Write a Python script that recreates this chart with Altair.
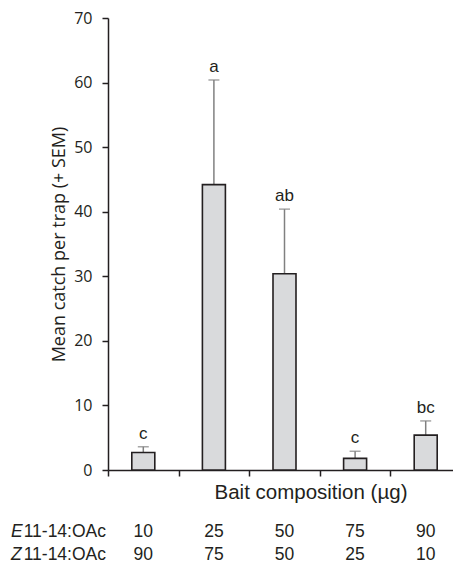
import altair as alt
import pandas as pd

categories = ["10:90", "25:75", "50:50", "75:25", "90:10"]
means = [2.7, 44.2, 30.4, 1.8, 5.4]
upper = [3.6, 60.4, 40.4, 2.9, 7.6]
letters = ["c", "a", "ab", "c", "bc"]
e_amounts = ["10", "25", "50", "75", "90"]
z_amounts = ["90", "75", "50", "25", "10"]

df = pd.DataFrame({
    "cat": categories, "mean": means, "upper": upper, "letter": letters,
    "e": e_amounts, "z": z_amounts,
})

AX = "Open Sans"
TXT = "Liberation Sans"
DARK = "#231f20"
FS = 17.5

x = alt.X("cat:N", sort=categories, scale=alt.Scale(paddingInner=0, paddingOuter=0),
          axis=alt.Axis(title=None, labels=False, tickBand="extent", ticks=True,
                        tickSize=6, tickColor=DARK, tickWidth=1.5,
                        domainColor=DARK, domainWidth=1.5))
y = alt.Y("mean:Q", scale=alt.Scale(domain=[0, 70], nice=False),
          axis=alt.Axis(values=list(range(0, 71, 10)), title="Mean catch per trap (+ SEM)",
                        titleFont=AX, titleFontSize=18, titleFontWeight="normal", titleColor=DARK,
                        titlePadding=5, labelFont=AX, labelFontSize=16, labelColor=DARK,
                        tickSize=6, labelPadding=10, tickColor=DARK, tickWidth=1.5,
                        domainColor=DARK, domainWidth=1.5, grid=False))

base = alt.Chart(df)

err = base.mark_rule(color="#808080", strokeWidth=1.5).encode(
    x=x, y=alt.Y("mean:Q"), y2="upper:Q")
cap = base.mark_tick(color="#808080", thickness=1.5, size=11).encode(
    x=x, y=alt.Y("upper:Q"))
bars = base.mark_bar(size=23, fill="#d9dadc", stroke=DARK, strokeWidth=1.6).encode(x=x, y=y)
lab = base.mark_text(font=TXT, fontSize=17, color=DARK, baseline="bottom", dy=-4).encode(
    x=x, y=alt.Y("upper:Q"), text="letter:N")

E_Y, Z_Y = 514, 537
erow = base.mark_text(font=TXT, fontSize=FS, color=DARK, baseline="middle").encode(
    x=x, y=alt.value(E_Y), text="e:N")
zrow = base.mark_text(font=TXT, fontSize=FS, color=DARK, baseline="middle").encode(
    x=x, y=alt.value(Z_Y), text="z:N")

ann = pd.DataFrame({"t": ["Bait composition (µg)"]})
title_x = alt.Chart(ann).mark_text(font=TXT, fontSize=20.5, color=DARK, baseline="middle",
                                   align="center").encode(
    x=alt.value(203), y=alt.value(475), text="t:N")

rows = pd.DataFrame({"pre": ["E", "Z"], "rest": ["11-14:OAc", "11-14:OAc"], "yy": [E_Y, Z_Y]})
pre = alt.Chart(rows).mark_text(font=TXT, fontSize=FS, fontStyle="italic", color=DARK,
                                baseline="middle", align="left").encode(
    x=alt.value(-97), y=alt.Y("yy:Q", scale=None), text="pre:N")
rest = alt.Chart(rows).mark_text(font=TXT, fontSize=FS, color=DARK,
                                 baseline="middle", align="right").encode(
    x=alt.value(-2), y=alt.Y("yy:Q", scale=None), text="rest:N")

chart = alt.layer(err, cap, bars, lab, erow, zrow, title_x, pre, rest).properties(
    width=353, height=452,
    padding={"left": 100, "top": 10, "right": -8, "bottom": 97},
    autosize=alt.AutoSizeParams(type="none"),
    background="white",
).configure_view(stroke=None)

chart.save("out.html", embed_options={"renderer": "svg", "actions": False})
